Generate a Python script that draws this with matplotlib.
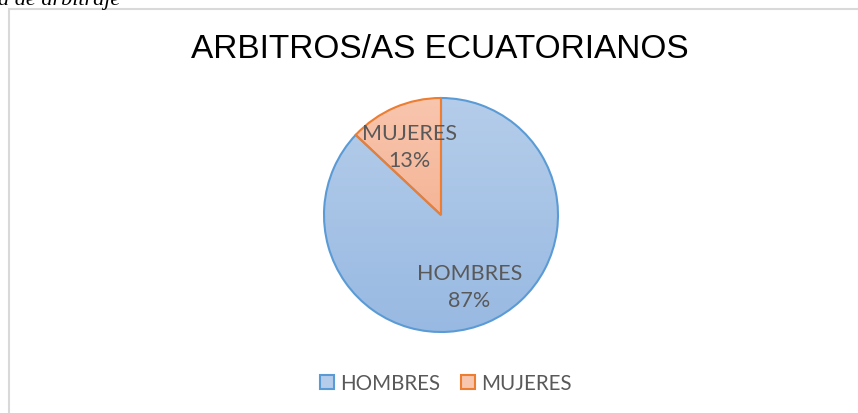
import numpy as np
import matplotlib.pyplot as plt
from matplotlib.colors import LinearSegmentedColormap
from matplotlib.patches import Rectangle, Patch, Wedge

# datos del grafico
categorias = ["HOMBRES", "MUJERES"]
valores = [87, 13]
titulo = "ARBITROS/AS ECUATORIANOS"

bordes = ["#5b9bd5", "#ed7d31"]
# degradado: color arriba, color abajo
degradados = [("#b5cdea", "#98b9e2"), ("#f8c6ae", "#f3a480")]

W, H = 858, 414
fig = plt.figure(figsize=(W / 100, H / 100), dpi=100)

# texto cortado de la pagina
fig.text(-0.002, 1 - 5 / H, "a de arbitraje", family="Liberation Serif",
         style="italic", fontsize=16, color="black", va="baseline")

# marco del grafico
marco = Rectangle((9 / W, -0.05), 1.2, 1 - 10 / H + 0.05, transform=fig.transFigure,
                  fill=False, edgecolor="#d9d9d9", linewidth=1.5, clip_on=False)
fig.patches.append(marco)

fig.text(440 / W, 1 - 50 / H, titulo, family="Liberation Sans", fontsize=24,
         color="black", ha="center", va="center")

# pie
cx, cy, r = 441, 216, 117
m = 1.1
ax = fig.add_axes([(cx - r * m) / W, (H - cy - r * m) / H, 2 * r * m / W, 2 * r * m / H])

total = sum(valores)
wedges, textos, pct = ax.pie(valores, startangle=90, counterclock=False,
                             colors=[d[1] for d in degradados],
                             wedgeprops=dict(linewidth=0),
                             autopct=lambda p: "", pctdistance=0.7)

grad = np.linspace(0, 1, 256).reshape(-1, 1)
for w, (c1, c2), b in zip(wedges, degradados, bordes):
    cmap = LinearSegmentedColormap.from_list("g", [c1, c2])
    im = ax.imshow(grad, cmap=cmap, extent=[-1.02, 1.02, -1.02, 1.02],
                   aspect="auto", zorder=2)
    im.set_clip_path(w)
    # borde encima del degradado
    ax.add_patch(Wedge(w.center, w.r, w.theta1, w.theta2, fill=False,
                       edgecolor=b, linewidth=1.5, zorder=5))

desplaz = [(-0.035, 0.03), (0.005, -0.06)]
for t, cat, v, (dx, dy) in zip(pct, categorias, valores, desplaz):
    x, y = t.get_position()
    ax.text(x + dx, y + dy, "%s\n%d%%" % (cat, round(100 * v / total)), ha="center",
            va="center", family="Lato", fontsize=15.5, color="#595959",
            linespacing=1.45, zorder=6)

ax.set_xlim(-m, m)
ax.set_ylim(-m, m)
ax.set_aspect("equal")
ax.axis("off")

# leyenda
handles = [Patch(facecolor=d[0], edgecolor=b, linewidth=1.5) for d, b in zip(degradados, bordes)]
leg = fig.legend(handles, categorias, loc="center", bbox_to_anchor=(446 / W, 1 - 384 / H),
                 ncol=2, frameon=False, handlelength=0.7, handleheight=0.7,
                 handletextpad=0.3, columnspacing=1.0, prop=dict(family="Lato", size=14.8))
for t in leg.get_texts():
    t.set_color("#595959")

fig.savefig("out.png", dpi=100)
